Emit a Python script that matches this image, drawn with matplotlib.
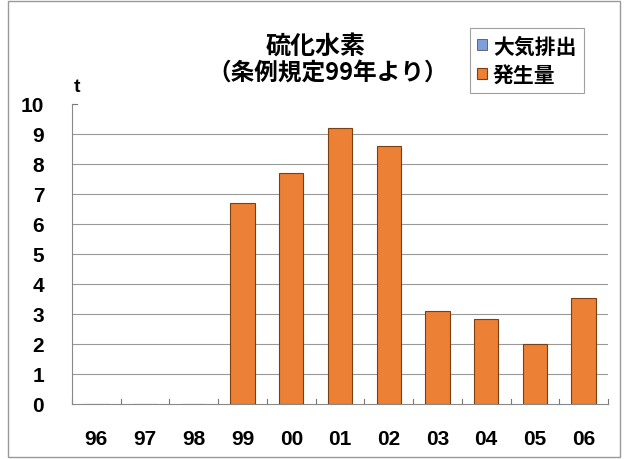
import matplotlib.pyplot as plt
import numpy as np
from matplotlib.patches import Rectangle

plt.rcParams['font.family'] = ['Noto Sans CJK JP', 'DejaVu Sans']

years = ['96', '97', '98', '99', '00', '01', '02', '03', '04', '05', '06']
air_emission = [0, 0, 0, 0, 0, 0, 0, 0, 0, 0, 0]
generated = [0, 0, 0, 6.7, 7.7, 9.2, 8.6, 3.1, 2.85, 2.0, 3.55]

fig = plt.figure(figsize=(6.24, 4.6), dpi=100)
ax = fig.add_axes([72 / 624, 55 / 460, 536 / 624, 300 / 460])

x = np.arange(len(years))
ax.bar(x, air_emission, width=0.5, color='#7f9fd8', edgecolor='#555555', linewidth=0.6, label='大気排出')
ax.bar(x, generated, width=0.5, color='#ec8034', edgecolor='#7a4010', linewidth=0.8, label='発生量', zorder=3)

num_font = dict(family=['Liberation Sans', 'DejaVu Sans'], size=15, weight='bold')

ax.set_xlim(-0.5, len(years) - 0.5)
ax.set_ylim(0, 10)
ax.set_yticks(range(11))
ax.set_yticklabels([str(i) for i in range(11)], fontdict=num_font)
ax.set_xticks(x)
ax.set_xticklabels(years, fontdict=num_font)
ax.tick_params(axis='y', length=0, pad=20)
ax.tick_params(axis='x', length=0, pad=18)

# category boundary ticks on the x axis
for b in np.arange(-0.5, len(years)):
    ax.plot([b, b], [0, 0.17], color='#777777', lw=0.8, clip_on=False, zorder=2)
ax.plot([-0.5, -0.4], [10, 10], color='#777777', lw=0.8, clip_on=False)

for v in range(1, 10):
    ax.axhline(v, color='#999999', lw=0.8, zorder=1)

for s in ['top', 'right']:
    ax.spines[s].set_visible(False)
ax.spines['left'].set_color('#888888')
ax.spines['bottom'].set_color('#888888')

fig.text(77 / 624, 1 - 88 / 460, 't', fontsize=14, fontweight='bold', ha='center', va='center',
         family=['Liberation Sans', 'DejaVu Sans'])
fig.text(316 / 624, 1 - 47 / 460, '硫化水素', fontsize=18, fontweight='bold', ha='center', va='center')
fig.text(328 / 624, 1 - 74 / 460, '（条例規定99年より）', fontsize=17, fontweight='bold', ha='center', va='center')

leg = fig.legend(loc='upper left', bbox_to_anchor=(470 / 624, 1 - 29 / 460),
                 prop=dict(family=['Noto Sans CJK JP', 'DejaVu Sans'], size=15, weight='bold'),
                 frameon=True, fancybox=False, edgecolor='#888888', handlelength=0.45,
                 handleheight=0.45, handletextpad=0.3, borderpad=0.35, labelspacing=0.38,
                 borderaxespad=0)
leg.get_frame().set_linewidth(0.8)

fig.patches.append(Rectangle((8 / 624, 2 / 460), 612 / 624, 456 / 460, transform=fig.transFigure,
                             fill=False, edgecolor='#999999', lw=1))

fig.savefig('out.png', dpi=100)
